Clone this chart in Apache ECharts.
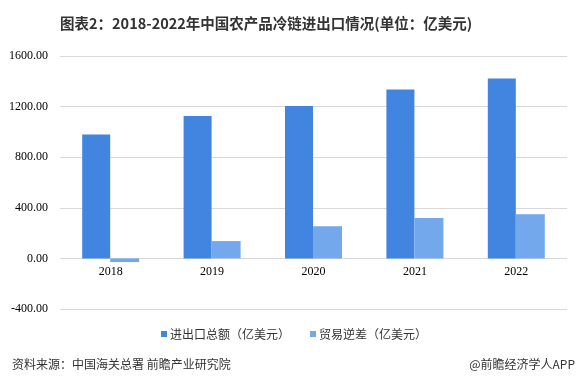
<!DOCTYPE html>
<html><head><meta charset="utf-8">
<script src="https://cdn.jsdelivr.net/npm/echarts@6/dist/echarts.min.js"></script>
<style>html,body{margin:0;padding:0;background:#fff}#c{width:582px;height:392px}</style>
</head><body><div id="c"></div>
<script>
const categories = ['2018','2019','2020','2021','2022'];
const totalValues = [980, 1125, 1204, 1336, 1423];
const deficitValues = [-29, 137, 255, 319, 350];
const seriesNames = ['进出口总额（亿美元）','贸易逆差（亿美元）'];
const yTicks = {min: -400, max: 1600, interval: 400};

const chart = echarts.init(document.getElementById('c'));
chart.setOption({
  animation: false,
  backgroundColor: '#fff',
  title: [{
    text: '图表2：2018-2022年中国农产品冷链进出口情况(单位：亿美元)',
    left: 55, top: 11,
    textStyle: {fontFamily: 'Noto Sans CJK SC', fontSize: 14.5, fontWeight: 'bold', color: '#333'}
  },{
    text: '资料来源：中国海关总署 前瞻产业研究院',
    left: 7, top: 353,
    textStyle: {fontFamily: 'Noto Sans CJK SC', fontSize: 12, fontWeight: 'normal', color: '#333'}
  },{
    text: '@前瞻经济学人APP',
    right: 2, top: 353,
    textStyle: {fontFamily: 'Noto Sans CJK SC', fontSize: 12, fontWeight: 'normal', color: '#333'}
  }],
  legend: {
    data: seriesNames,
    left: 156, top: 323,
    itemWidth: 6, itemHeight: 6, itemGap: 20,
    icon: 'rect',
    textStyle: {fontFamily: 'Noto Sans CJK SC', fontSize: 12, color: '#333', padding: [0,0,0,-2]}
  },
  grid: {left: 60, right: 15, top: 56, bottom: 83, containLabel: false},
  xAxis: {
    type: 'category', data: categories,
    axisLine: {show: false}, axisTick: {show: false},
    axisLabel: {fontFamily: 'Liberation Serif', fontSize: 12, color: '#000', margin: 7},
    position: 'bottom', offset: -50
  },
  yAxis: {
    type: 'value', min: yTicks.min, max: yTicks.max, interval: yTicks.interval,
    axisLine: {show: false}, axisTick: {show: false},
    splitLine: {lineStyle: {color: '#d9d9d9', width: 1}},
    axisLabel: {fontFamily: 'Liberation Serif', fontSize: 12, color: '#000', margin: 12,
      formatter: v => v.toFixed(2)}
  },
  series: [{
    name: seriesNames[0], type: 'bar', data: totalValues,
    barWidth: 28, barGap: '0%',
    itemStyle: {color: '#4285e0'}
  },{
    name: seriesNames[1], type: 'bar', data: deficitValues,
    barWidth: 29,
    itemStyle: {color: '#74a8ec'}
  }]
});
</script></body></html>
